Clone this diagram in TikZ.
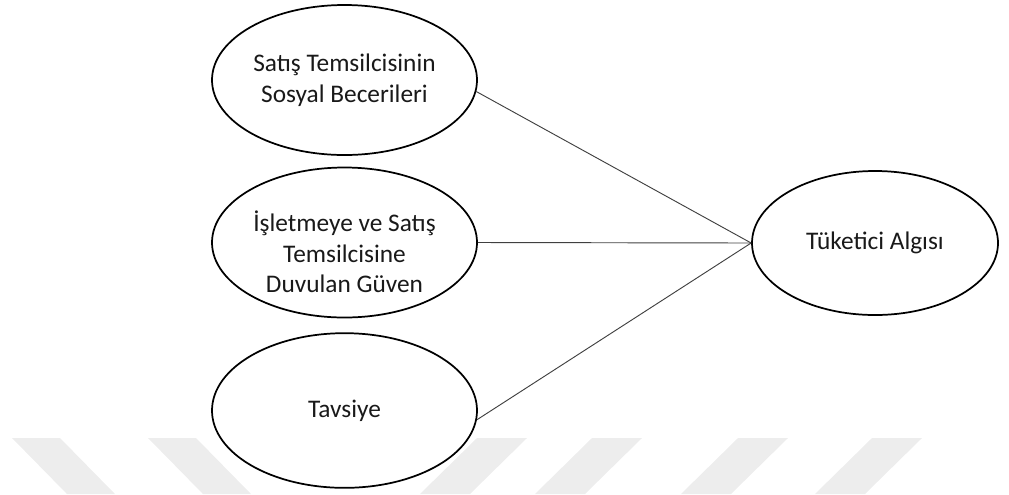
\documentclass[tikz,border=0pt]{standalone}
\usepackage{fontspec}
\setmainfont{Carlito}
\usetikzlibrary{shapes.geometric}
\tikzset{oval/.style={draw, line width=1.3pt, ellipse, fill=white, inner sep=0pt,
    minimum width=198.75pt, minimum height=112.5pt},
  lbl/.style={align=center, text=black!90, font=\fontsize{19}{23}\selectfont},
  link/.style={draw=black!75, line width=0.7pt},
  wmark/.style={fill=black!7}}

\begin{document}
\begin{tikzpicture}[x=0.75pt, y=-0.75pt]
  \useasboundingbox (0,0) rectangle (1009,494);
  % faint stripes along the bottom
  \foreach \s in {12,148}
    \fill[wmark] (\s,438) -- ++(48,0) -- ++(55,56) -- ++(-48,0) -- cycle;
  \foreach \s in {477,592,738,872}
    \fill[wmark] (\s,438) -- ++(50,0) -- ++(-57,56) -- ++(-50,0) -- cycle;
  % left column
  \node[oval, label={[lbl]center:{Satış Temsilcisinin\\Sosyal Becerileri}}] (social) at (344.5,80) {};
  \node[oval, label={[lbl, yshift=-7pt]center:{İşletmeye ve Satış\\Temsilcisine\\Duvulan Güven}}] (trust) at (344.5,242.5) {};
  \node[oval, minimum height=116pt, label={[lbl]center:Tavsiye}] (advice) at (344.5,410.5) {};
  % right
  \node[oval, minimum width=184.5pt, minimum height=108pt, label={[lbl]center:Tüketici Algısı}] (percep) at (875,243) {};
  \draw[link] (social.-5) -- (percep.west);
  \draw[link] (trust.east) -- (percep.west);
  \draw[link] (advice.-4) -- (percep.west);
\end{tikzpicture}
\end{document}
